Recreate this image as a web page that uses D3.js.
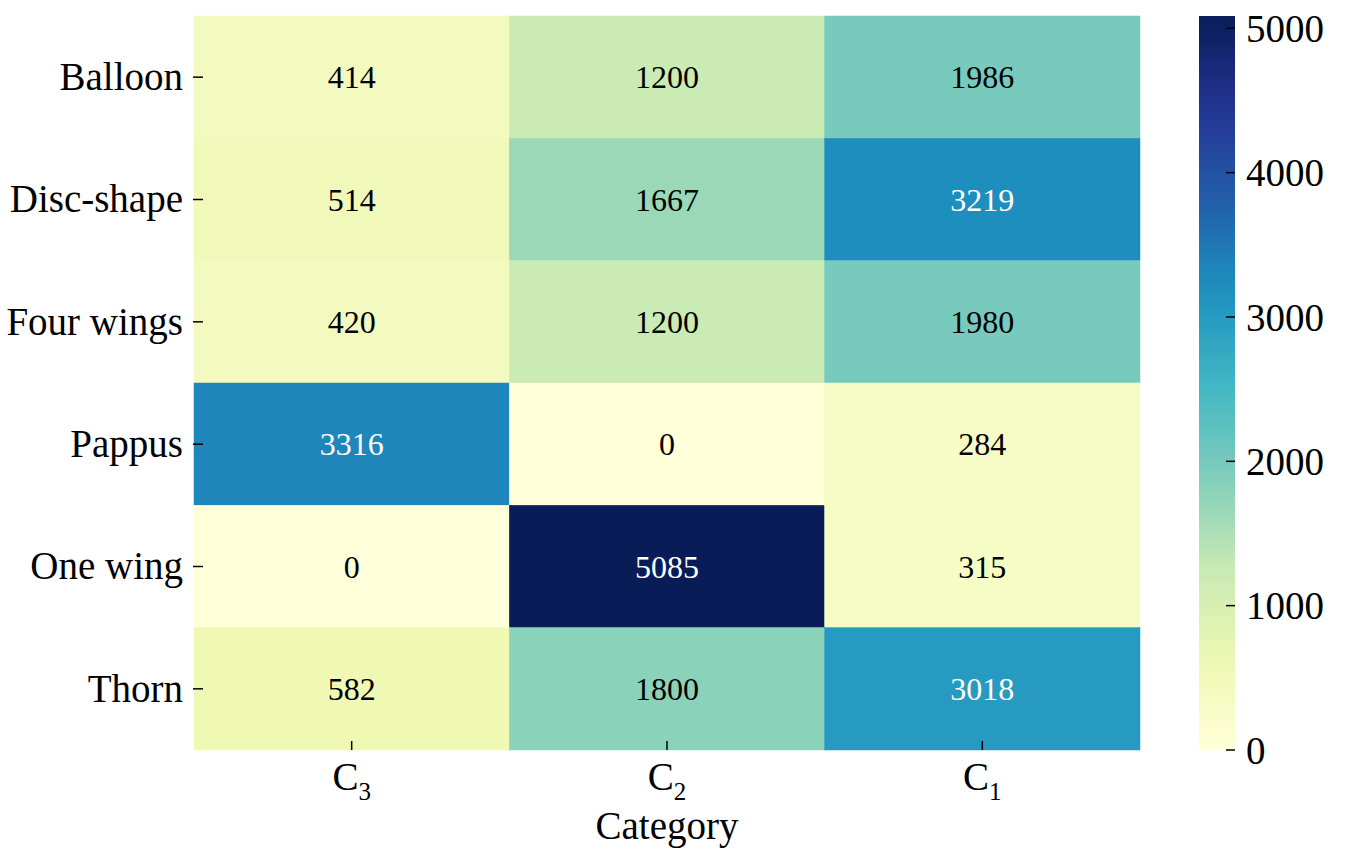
<!DOCTYPE html>
<html>
<head>
<meta charset="utf-8">
<script src="https://cdn.jsdelivr.net/npm/d3@7"></script>
<style>
  body { margin: 0; background: #fff; }
  svg { display: block; font-family: "Liberation Serif", "Times New Roman", serif; }
</style>
</head>
<body>
<svg id="chart" width="1350" height="852"></svg>
<script>
// Data
const rows = ["Balloon", "Disc-shape", "Four wings", "Pappus", "One wing", "Thorn"];
const cols = ["3", "2", "1"]; // subscripts of C
const values = [
  [414, 1200, 1986],
  [514, 1667, 3219],
  [420, 1200, 1980],
  [3316, 0, 284],
  [0, 5085, 315],
  [582, 1800, 3018]
];
const cbarTicks = [0, 1000, 2000, 3000, 4000, 5000];

const svg = d3.select("#chart");

const plotL = 194, plotR = 1140, plotT = 16, plotB = 750;
const cbL = 1199, cbR = 1235;
const fs = 39;      // axis text
const annotFs = 32; // cell numbers

const x = d3.scaleBand().domain(cols).range([plotL, plotR]);
const y = d3.scaleBand().domain(rows).range([plotT, plotB]);

const vmax = d3.max(values.flat());
const color = d3.scaleSequential(d3.piecewise(d3.interpolateRgb, d3.schemeYlGnBu[9]))
  .domain([0, vmax]);

const cells = [];
rows.forEach((r, i) => cols.forEach((c, j) => cells.push({ r, c, v: values[i][j] })));

function textColor(v) {
  const rgb = d3.rgb(color(v));
  const lin = ch => { ch /= 255; return ch <= 0.03928 ? ch / 12.92 : Math.pow((ch + 0.055) / 1.055, 2.4); };
  const lum = 0.2126 * lin(rgb.r) + 0.7152 * lin(rgb.g) + 0.0722 * lin(rgb.b);
  return lum > 0.408 ? "#000" : "#fff";
}

const g = svg.append("g");

g.selectAll("rect.cell")
  .data(cells)
  .join("rect")
  .attr("class", "cell")
  .attr("x", d => x(d.c))
  .attr("y", d => y(d.r))
  .attr("width", x.bandwidth())
  .attr("height", y.bandwidth())
  .attr("fill", d => color(d.v))
  .attr("stroke", d => color(d.v))
  .attr("stroke-width", 0.5);

g.selectAll("text.val")
  .data(cells)
  .join("text")
  .attr("class", "val")
  .attr("x", d => x(d.c) + x.bandwidth() / 2)
  .attr("y", d => y(d.r) + y.bandwidth() / 2)
  .attr("dy", "0.35em")
  .attr("text-anchor", "middle")
  .attr("font-size", annotFs)
  .attr("fill", d => textColor(d.v))
  .text(d => d.v);

// y ticks + labels
const yt = g.append("g");
rows.forEach(r => {
  const cy = y(r) + y.bandwidth() / 2;
  yt.append("line").attr("x1", plotL - 1).attr("x2", plotL + 9)
    .attr("y1", cy).attr("y2", cy).attr("stroke", "#000").attr("stroke-width", 1.5);
  yt.append("text").attr("x", plotL - 11).attr("y", cy).attr("dy", "0.33em")
    .attr("text-anchor", "end").attr("font-size", fs).text(r);
});

// x ticks + labels
const xt = g.append("g");
cols.forEach(c => {
  const cx = x(c) + x.bandwidth() / 2;
  xt.append("line").attr("x1", cx).attr("x2", cx)
    .attr("y1", plotB - 9).attr("y2", plotB).attr("stroke", "#000").attr("stroke-width", 1.5);
  const t = xt.append("text").attr("x", cx).attr("y", 790)
    .attr("text-anchor", "middle").attr("font-size", fs);
  t.append("tspan").text("C");
  t.append("tspan").attr("font-size", 25).attr("dy", 10).text(c);
});

svg.append("text").attr("x", (plotL + plotR) / 2).attr("y", 839)
  .attr("text-anchor", "middle").attr("font-size", fs).text("Category");

// colorbar
const cbScale = d3.scaleLinear().domain([0, vmax]).range([plotB, plotT]);
const defs = svg.append("defs");
const grad = defs.append("linearGradient").attr("id", "cbar")
  .attr("x1", 0).attr("y1", 1).attr("x2", 0).attr("y2", 0);
d3.range(0, 1.0001, 0.05).forEach(t => {
  grad.append("stop").attr("offset", t).attr("stop-color", color(t * vmax));
});
svg.append("rect").attr("x", cbL).attr("y", plotT)
  .attr("width", cbR - cbL).attr("height", plotB - plotT)
  .attr("fill", "url(#cbar)");

const cb = svg.append("g");
cbarTicks.forEach(v => {
  const ty = cbScale(v);
  cb.append("line").attr("x1", cbR - 9).attr("x2", cbR)
    .attr("y1", ty).attr("y2", ty).attr("stroke", "#000").attr("stroke-width", 1.5);
  cb.append("text").attr("x", cbR + 11).attr("y", ty).attr("dy", "0.35em")
    .attr("font-size", fs).text(v);
});
</script>
</body>
</html>
